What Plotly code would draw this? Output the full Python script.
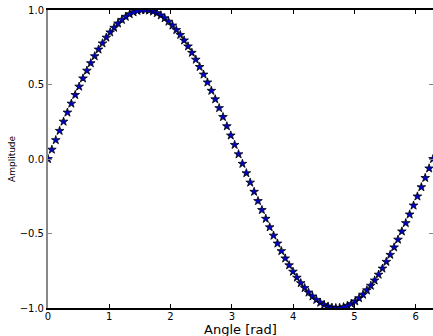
import plotly.graph_objects as go

angle = [0.0,0.063,0.127,0.19,0.254,0.317,0.381,0.444,0.508,0.571,0.635,0.698,0.762,0.825,0.889,0.952,1.015,1.079,1.142,1.206,
         1.269,1.333,1.396,1.46,1.523,1.587,1.65,1.714,1.777,1.841,1.904,1.967,2.031,2.094,2.158,2.221,2.285,2.348,2.412,2.475,
         2.539,2.602,2.666,2.729,2.793,2.856,2.919,2.983,3.046,3.110,3.173,3.237,3.300,3.364,3.427,3.491,3.554,3.618,3.681,3.745,
         3.808,3.871,3.935,3.998,4.062,4.125,4.189,4.252,4.316,4.379,4.443,4.506,4.57,4.633,4.697,4.76,4.823,4.887,4.95,5.014,
         5.077,5.141,5.204,5.268,5.331,5.395,5.458,5.522,5.585,5.649,5.712,5.775,5.839,5.902,5.966,6.029,6.093,6.156,6.22,6.283]
amplitude = [0.0,0.063,0.127,0.189,0.251,0.312,0.372,0.43,0.486,0.541,0.593,0.643,0.69,0.735,0.776,0.815,0.85,0.881,0.91,0.934,
             0.955,0.972,0.985,0.994,0.999,1.0,0.997,0.99,0.979,0.964,0.945,0.922,0.896,0.866,0.833,0.796,0.756,0.713,0.667,0.618,
             0.567,0.514,0.458,0.401,0.342,0.282,0.22,0.158,0.095,0.032,-0.032,-0.095,-0.158,-0.22,-0.282,-0.342,-0.401,-0.458,-0.514,-0.567,
             -0.618,-0.667,-0.713,-0.756,-0.796,-0.833,-0.866,-0.896,-0.922,-0.945,-0.964,-0.979,-0.99,-0.997,-1.0,-0.999,-0.994,-0.985,-0.972,-0.955,
             -0.934,-0.91,-0.881,-0.85,-0.815,-0.776,-0.735,-0.69,-0.643,-0.593,-0.541,-0.486,-0.43,-0.372,-0.312,-0.251,-0.189,-0.127,-0.063,0.0]

x_ticks = [0, 1, 2, 3, 4, 5, 6]
x_tick_labels = ["0", "1", "2", "3", "4", "5", "6"]
y_ticks = [-1.0, -0.5, 0.0, 0.5, 1.0]
y_tick_labels = ["\u22121.0", "\u22120.5", "0.0", "0.5", "1.0"]
x_title = "Angle [rad]"
y_title = "Amplitude"

fig = go.Figure()
fig.add_trace(go.Scatter(
    x=angle, y=amplitude, mode="markers",
    marker=dict(symbol="star", size=6.5, color="#0000cc", line=dict(color="black", width=0.8)),
    cliponaxis=True, showlegend=False,
))

font = "DejaVu Sans, Verdana, sans-serif"
fig.update_layout(
    width=433, height=336,
    margin=dict(l=48, r=0, t=10, b=28, autoexpand=False),
    paper_bgcolor="white", plot_bgcolor="white",
    font=dict(family=font, color="black", size=10),
    xaxis=dict(
        range=[0, 6.2832], tickvals=x_ticks, ticktext=x_tick_labels,
        showgrid=False, zeroline=False, automargin=False,
        showline=True, linecolor="black", linewidth=1.5, mirror="allticks",
        ticks="inside", ticklen=4, tickcolor="black", tickwidth=1,
        tickfont=dict(size=10, family=font), ticklabelstandoff=-2,
    ),
    yaxis=dict(
        range=[-1.0, 1.0], tickvals=y_ticks, ticktext=y_tick_labels,
        showgrid=False, zeroline=False, automargin=False,
        showline=True, linecolor="#888888", linewidth=2, mirror="allticks",
        ticks="inside", ticklen=4, tickcolor="#888888", tickwidth=1,
        tickfont=dict(size=10, family=font),
    ),
    annotations=[
        dict(text=x_title, xref="paper", yref="paper", x=0.5, y=0, yshift=-21,
             xanchor="center", yanchor="middle", showarrow=False,
             font=dict(size=13, family=font)),
        dict(text=y_title, xref="paper", yref="paper", x=0, xshift=-36, y=0.5,
             xanchor="center", yanchor="middle", textangle=-90, showarrow=False,
             font=dict(size=9, family=font)),
    ],
)

fig.write_html("out.html", config={"displayModeBar": False},
               post_script="document.body.style.margin='0';document.body.style.overflow='hidden';")
